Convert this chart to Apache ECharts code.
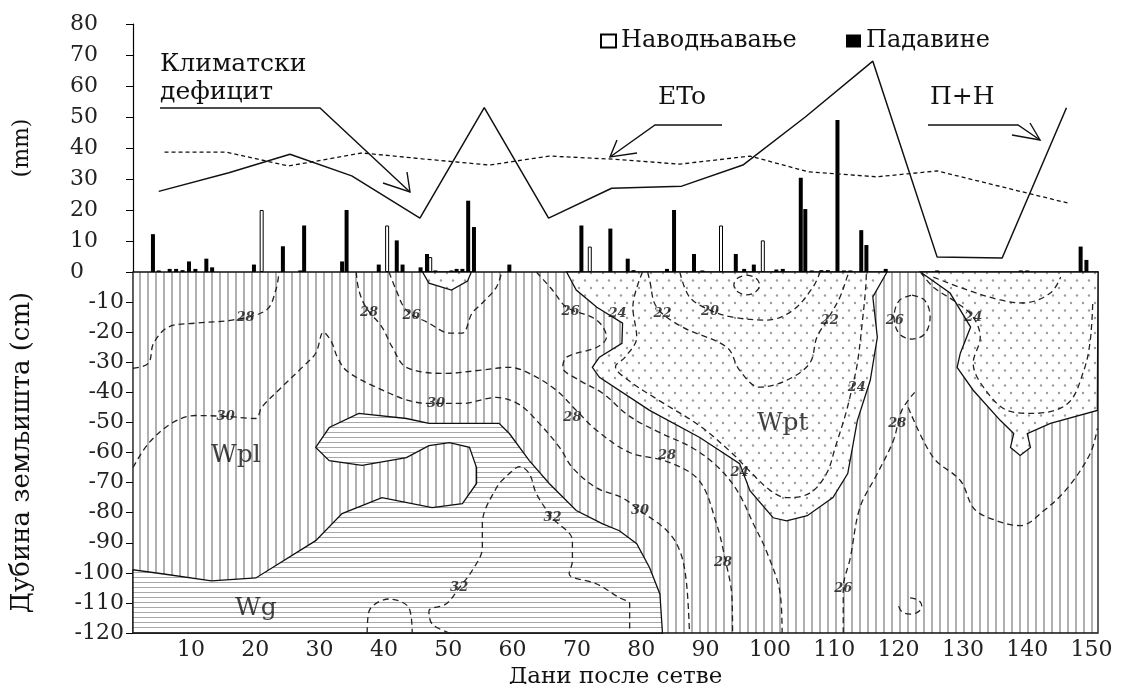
<!DOCTYPE html>
<html>
<head>
<meta charset="utf-8">
<script src="https://cdn.jsdelivr.net/npm/echarts@6/dist/echarts.min.js"></script>
<style>
html,body{margin:0;padding:0;background:#fff}
#chart{width:1123px;height:684px}
</style>
</head>
<body>
<div id="chart"></div>
<script>
// ---- top panel data (mm) ----
var dayTicks = [10,20,30,40,50,60,70,80,90,100,110,120,130,140,150];

var irrigation = [[21,20],[40.5,15],[47.2,4.8],[72,8.2],[92.4,15],[98.9,10.2]];

var rainfall = [[4.1,12.2],[5,0.5],[6.7,1],[7.7,1],[8.7,0.6],[9.7,3.4],[10.7,1],[12.4,4.3],[13.3,1.5],
  [19.8,2.4],[24.3,8.3],[27,0.5],[27.6,15],[33.5,3.4],[34.2,20],[39.2,2.4],[42,10.2],[42.9,2.4],
  [45.7,1.5],[46.7,5.8],[48,0.5],[50.5,0.5],[51.3,1],[52.2,1],[53.1,23],[54,14.5],[59.5,2.4],
  [70.7,15],[75.2,14],[77.9,4.3],[78.8,0.6],[84,1],[85.1,20],[88.2,5.8],[89.5,0.5],[94.7,5.8],
  [96,1],[97.5,2.4],[101,0.8],[102,1],[104.8,30.4],[105.5,20.3],[106.5,0.5],[108,0.6],[109,0.6],
  [110.5,49],[111.5,0.5],[112.5,0.5],[114.2,13.5],[115,8.7],[118,1],[126,0.5],[139,0.5],[140,0.5],
  [148.3,8.2],[149.2,3.9]];

var climDeficit = [[5,26],[15.9,32],[25.4,38],[35,31],[45.6,17.4],[55.6,53],[65.6,17.4],[75.4,27],
  [86.3,27.7],[95.8,34.5],[105.5,50],[116,68],[126,4.8],[136.1,4.5],[146.1,53]];

var eto = [[5.9,38.7],[15.4,38.7],[25.2,34.2],[36.6,38.4],[46,36.5],[56.4,34.5],[65.7,37.4],[75.5,36.4],
  [86,34.8],[96.9,37.4],[106,32.3],[116.6,30.7],[126,32.6],[136,27.5],[146.4,22.2]];

// ---- bottom panel: soil water zones (day, depth cm) ----
var zoneWpl = [[1,0],[151,0],[151,-120],[1,-120]];

var zoneWg = [[1,-99],[1,-120],[83.3,-120],[82.9,-107],[81.3,-98.3],[79.3,-90.3],[76.6,-86],[74,-83.7],
  [69.9,-79.3],[65.7,-70.3],[62.6,-62.7],[59.5,-53.7],[57.9,-50.3],[47,-50.3],[43.5,-48.7],[36.1,-47],
  [31.5,-51.7],[29.4,-58.3],[31.5,-62.7],[36.6,-64.3],[43.5,-61.7],[47,-57.7],[50.2,-56.7],[53.3,-58.3],
  [54.4,-65],[54.4,-70.3],[52.2,-77],[47.5,-78.3],[39.7,-75],[33.5,-80.3],[29.4,-89.3],[20.1,-101.7],
  [13.2,-102.7],[5.5,-100.3]];

var zoneWptMid = [[68.4,0],[69.9,-6],[73.1,-11.7],[77.1,-17],[77,-23.7],[73.5,-28.3],[72.4,-31.7],
  [73.5,-35],[81.3,-46],[89.1,-55],[95.3,-63.7],[96.9,-72.7],[100.5,-81.7],[102.6,-82.7],[105.8,-81],
  [109.8,-75],[112.1,-67],[113.6,-49.3],[115.6,-36],[116.7,-21.7],[116,-8.3],[118.2,0]];

var zoneWptRight = [[123.4,0],[128,-7],[131.2,-18.3],[129.6,-27],[129.1,-31.7],[131.6,-39.3],[135.8,-49.3],
  [137.9,-53.7],[137.4,-58.3],[138.9,-61],[140.5,-58.3],[140,-53.7],[143.6,-50.3],[150.9,-46],[151,0]];

var zoneWptSmall = [[46,0],[47,-3.7],[50.5,-6],[53,-3],[53.6,0]];

// dashed isolines
var iso28a = [[1,-32],[3.4,-30.3],[4.2,-23.7],[6.5,-18.3],[10.7,-17],[16.4,-16],[21.7,-12.7],[23.2,-6],[23.7,0]];
var iso30 = [[1,-65],[3.4,-57],[7,-50.3],[10.7,-47.7],[15.4,-48],[20.1,-48.7],[21,-45],[24.1,-38.3],[27.3,-31.7],
  [29.4,-27],[30.6,-20],[31.8,-23],[32.8,-28.5],[34.3,-33],[38.8,-38.3],[45,-43.3],[48.1,-43.7],[52.2,-43.7],
  [57.5,-41.7],[61,-44],[64,-50],[67.3,-58.3],[69.3,-65],[73,-71.7],[77,-75],[79.8,-79.3],[84,-86],[86,-92.7],
  [87,-102.7],[87.5,-120]];
var iso28b = [[35.7,0],[36.1,-6],[37.2,-11.7],[39.7,-18.3],[41.3,-25],[43.5,-31.7],[49.7,-33.7],[54.8,-32.7],
  [59.5,-31.7],[62.6,-33.7],[66.8,-39.3],[69.9,-46],[73.1,-52.7],[78.2,-60],[84,-63],[89,-69.3],[91.7,-83.7],
  [93,-95],[94.1,-108],[94.2,-120]];
var iso26a = [[40.8,0],[41.9,-6],[43.5,-12.7],[47,-17],[50.2,-20.3],[52.2,-20.3],[53.7,-13.7],[55.3,-10.3],[57.5,-5],[58.3,0]];
var iso26b = [[63.7,0],[66.2,-6],[68.4,-11.7],[73.1,-16],[74.6,-21.7],[73.1,-25],[68.4,-28.3],[67.8,-31.7],[70.4,-36],
  [74,-40.3],[78.2,-48],[83,-53.5],[88,-58.5],[92,-65],[95,-73],[97.5,-84],[99.5,-93],[101.6,-107],[101.9,-120]];
var iso24a = [[80.2,0],[78.7,-11.7],[79.3,-21.7],[77.5,-28.3],[76,-31.5],[78,-36],[83,-43],[89,-51],[94,-60],[97,-66.5],
  [100,-72.5],[102.6,-75],[106.2,-73.5],[108.8,-67],[110.2,-58],[111.8,-47],[112.8,-38.3],[113.6,-30.3],[114.4,-16],[114.9,-5],[115,0]];
var iso22 = [[81,0],[81.3,-2.7],[82.4,-11.7],[86.4,-18.3],[93.3,-25],[95.3,-32.7],[98.4,-38.3],[102.6,-36],[106.2,-30.3],
  [107.3,-21.7],[108.9,-16],[110.9,-8.3],[112,-1.7],[112.3,0]];
var iso20 = [[86,0],[87.5,-8.3],[90.7,-12.7],[94.2,-15],[99.5,-16],[103.6,-12.7],[106.7,-5],[107.8,0]];
var iso20ring = [[96.4,-1],[97.8,-2],[98.4,-4.3],[97.8,-6.6],[96.4,-7.6],[95,-6.6],[94.4,-4.3],[95,-2],[96.4,-1]];
var iso26ring = [[122.1,-7.7],[124.1,-9.5],[124.9,-15],[124.1,-20.5],[122.1,-22.3],[120.1,-20.5],[119.3,-15],[120.1,-9.5],[122.1,-7.7]];
var iso26c = [[122.5,-40],[120.5,-46],[119.2,-56],[116.7,-67],[114,-78.3],[112.5,-95],[111.4,-105.3],[111.4,-120]];
var iso24b = [[123.4,0],[125.4,-5],[129.1,-10.3],[131.6,-15],[132.7,-21.7],[131.6,-30.3],[133.2,-38.3],[136.9,-46],
  [141,-47],[146.3,-43.7],[148.8,-32.7],[149.8,-22.7],[150.2,-9.3]];
var iso22b = [[125.4,-1.7],[130.7,-6],[135.8,-9.3],[139.4,-10.3],[143.6,-7],[145.2,-1.7]];
var iso28c = [[121.5,-45],[125.4,-61.7],[129.6,-69.3],[131.6,-78.3],[134,-81.7],[138.9,-84.3],[142.6,-79.3],
  [146.3,-71.7],[149.8,-60.3],[150.9,-52]];
var iso32 = [[50.2,-120],[47.5,-117],[47,-112.7],[49.7,-110.3],[51.7,-105],[53.7,-99.3],[55.3,-91.7],[55.3,-83.7],
  [57.5,-71.7],[59.5,-67],[61.1,-64.7],[62.6,-67],[63.7,-73.7],[66.2,-81.7],[69.3,-89.3],[69.3,-96],[68.8,-100.3],
  [73.1,-103.7],[76.6,-108.3],[78.2,-110.3],[78.2,-120]];
var iso34 = [[37.4,-120],[37.7,-112.7],[40.8,-108.7],[43.9,-111.7],[44.4,-120]];
var iso30ring = [[121.8,-108.3],[123.1,-109.1],[123.6,-111],[123.1,-112.9],[121.8,-113.7],[120.5,-112.9],[120,-111]];

var isoLabels = [[18.5,-15.3,'28'],[15.4,-48,'30'],[37.7,-13.5,'28'],[44.3,-14.5,'26'],[48.1,-43.7,'30'],
  [69,-13.3,'26'],[76.3,-13.7,'24'],[83.3,-13.7,'22'],[90.7,-13.2,'20'],[109.3,-16,'22'],[119.4,-16,'26'],
  [113.5,-38.3,'24'],[119.8,-50.3,'28'],[131.6,-15,'24'],[69.3,-48.3,'28'],[84,-61,'28'],[79.8,-79.3,'30'],
  [95.3,-66.7,'24'],[92.7,-96.7,'28'],[111.4,-105.3,'26'],[51.7,-105,'32'],[66.2,-81.7,'32']];

var zoneNames = [[17,-61,'Wpl'],[20.1,-111.7,'Wg'],[102,-50.3,'Wpt']];

// ---- fill patterns ----
function makePattern(w, h, draw) {
  var c = document.createElement('canvas');
  c.width = w; c.height = h;
  var g = c.getContext('2d');
  g.fillStyle = '#fff';
  g.fillRect(0, 0, w, h);
  draw(g);
  return {image: c, repeat: 'repeat'};
}
var vHatch = makePattern(8, 8, function (g) { g.fillStyle = '#b0b0b0'; g.fillRect(3, 0, 2, 8); });
var hHatch = makePattern(5, 5, function (g) { g.fillStyle = '#a8a8a8'; g.fillRect(0, 2, 5, 1); });
var dots = makePattern(12, 15, function (g) {
  g.fillStyle = '#9c9c9c';
  g.beginPath(); g.arc(3, 3, 1.2, 0, Math.PI * 2); g.fill();
  g.beginPath(); g.arc(9, 10.5, 1.2, 0, Math.PI * 2); g.fill();
});

function zone(pts, fill) {
  return {
    type: 'custom', xAxisIndex: 1, yAxisIndex: 1, silent: true,
    data: [pts[0]],
    renderItem: function (params, api) {
      return {
        type: 'polygon',
        shape: {points: pts.map(function (p) { return api.coord(p); })},
        style: {fill: fill, stroke: '#111', lineWidth: 1.3}
      };
    }
  };
}

function iso(pts) {
  return {
    type: 'line', xAxisIndex: 1, yAxisIndex: 1, data: pts, symbol: 'none', silent: true,
    smooth: 0.35,
    lineStyle: {color: '#222', width: 1.3, type: [6, 4]}
  };
}

function textLayer(pts, size, italicBold) {
  return {
    type: 'scatter', xAxisIndex: 1, yAxisIndex: 1, data: pts, symbolSize: 0, silent: true,
    itemStyle: {color: 'rgba(0,0,0,0)'},
    label: {show: true, position: 'inside', formatter: function (p) { return p.value[2]; },
      fontFamily: font, fontSize: size, color: '#111',
      fontStyle: italicBold ? 'italic' : 'normal', fontWeight: italicBold ? 'bold' : 'normal'}
  };
}

var font = 'DejaVu Serif';
var chart = echarts.init(document.getElementById('chart'));

var series = [
  {name: 'Наводњавање', type: 'bar', xAxisIndex: 0, yAxisIndex: 0, data: irrigation, barWidth: 4, barGap: '-100%',
    itemStyle: {color: '#fff', borderColor: '#000', borderWidth: 1}},
  {name: 'Падавине', type: 'bar', xAxisIndex: 0, yAxisIndex: 0, data: rainfall, barWidth: 4, barGap: '-100%',
    itemStyle: {color: '#000'}},
  {type: 'line', xAxisIndex: 0, yAxisIndex: 0, data: climDeficit, symbol: 'none', silent: true,
    lineStyle: {color: '#111', width: 1.5}},
  {type: 'line', xAxisIndex: 0, yAxisIndex: 0, data: eto, symbol: 'none', silent: true,
    lineStyle: {color: '#111', width: 1.3, type: [4, 3]}},
  zone(zoneWpl, vHatch),
  zone(zoneWg, hHatch),
  zone(zoneWptMid, dots),
  zone(zoneWptRight, dots),
  zone(zoneWptSmall, dots)
];
[iso28a, iso30, iso28b, iso26a, iso26b, iso24a, iso22, iso20, iso20ring, iso26ring, iso26c, iso24b, iso22b,
  iso28c, iso32, iso34, iso30ring].forEach(function (a) { series.push(iso(a)); });
series.push(textLayer(isoLabels, 13, true));
series.push(textLayer(zoneNames, 25, false));

var labelStyle = {fontFamily: font, fontSize: 22, color: '#222'};
var bigText = '25px "DejaVu Serif"';

chart.setOption({
  animation: false,
  backgroundColor: '#fff',
  textStyle: {fontFamily: font},
  grid: [
    {left: 133, top: 24, width: 965, height: 248, outerBoundsMode: 'none'},
    {left: 133, top: 272, width: 965, height: 361, outerBoundsMode: 'none'}
  ],
  legend: [
    {data: ['Наводњавање'], left: 600, top: 29, icon: 'rect', itemWidth: 15, itemHeight: 13, padding: 0,
      textStyle: {fontFamily: font, fontSize: 24, color: '#111'}},
    {data: ['Падавине'], left: 846, top: 29, icon: 'rect', itemWidth: 15, itemHeight: 13, padding: 0,
      textStyle: {fontFamily: font, fontSize: 24, color: '#111'}}
  ],
  xAxis: [
    {type: 'value', gridIndex: 0, min: 1, max: 151,
      axisLine: {lineStyle: {color: '#000', width: 1.2}}, axisTick: {show: false},
      axisLabel: {show: false}, splitLine: {show: false}},
    {type: 'value', gridIndex: 1, min: 1, max: 151, position: 'bottom',
      name: 'Дани после сетве', nameLocation: 'middle', nameGap: 28,
      nameTextStyle: {fontFamily: font, fontSize: 23, color: '#111'},
      axisLine: {lineStyle: {color: '#000', width: 1.2}},
      axisTick: {customValues: dayTicks, length: 6, lineStyle: {color: '#000'}},
      axisLabel: Object.assign({customValues: dayTicks, margin: 6}, labelStyle),
      splitLine: {show: false}}
  ],
  yAxis: [
    {type: 'value', gridIndex: 0, min: 0, max: 80, interval: 10,
      name: '(mm)', nameLocation: 'middle', nameGap: 100, nameRotate: 90,
      nameTextStyle: {fontFamily: font, fontSize: 22, color: '#111'},
      axisLine: {show: true, lineStyle: {color: '#000', width: 1.2}},
      axisTick: {show: true, length: 7, lineStyle: {color: '#000'}},
      axisLabel: Object.assign({margin: 63, align: 'left'}, labelStyle),
      splitLine: {show: false}},
    {type: 'value', gridIndex: 1, min: -120, max: 0, interval: 10,
      name: 'Дубина земљишта (cm)', nameLocation: 'middle', nameGap: 98, nameRotate: 90,
      nameTextStyle: {fontFamily: font, fontSize: 26, color: '#111'},
      axisLine: {show: true, lineStyle: {color: '#000', width: 1.2}},
      axisTick: {show: true, length: 7, lineStyle: {color: '#000'}},
      axisLabel: Object.assign({margin: 9, showMaxLabel: false}, labelStyle),
      splitLine: {show: false}}
  ],
  graphic: [
    {type: 'text', left: 160, top: 52, style: {text: 'Климатски', font: bigText, fill: '#111'}},
    {type: 'text', left: 160, top: 80, style: {text: 'дефицит', font: bigText, fill: '#111'}},
    {type: 'polyline', shape: {points: [[160, 108], [320, 108], [410, 192]]}, style: {stroke: '#111', lineWidth: 1.4, fill: null}},
    {type: 'polyline', shape: {points: [[383, 183], [410, 192], [407, 172]]}, style: {stroke: '#111', lineWidth: 1.4, fill: null}},
    {type: 'text', left: 658, top: 85, style: {text: 'ETo', font: bigText, fill: '#111'}},
    {type: 'polyline', shape: {points: [[722, 125], [655, 125], [610, 157]]}, style: {stroke: '#111', lineWidth: 1.4, fill: null}},
    {type: 'polyline', shape: {points: [[617, 140], [610, 157], [637, 153]]}, style: {stroke: '#111', lineWidth: 1.4, fill: null}},
    {type: 'text', left: 930, top: 85, style: {text: 'П+Н', font: bigText, fill: '#111'}},
    {type: 'polyline', shape: {points: [[928, 125], [1018, 125], [1040, 140]]}, style: {stroke: '#111', lineWidth: 1.4, fill: null}},
    {type: 'polyline', shape: {points: [[1012, 135], [1040, 140], [1030, 123]]}, style: {stroke: '#111', lineWidth: 1.4, fill: null}}
  ],
  series: series
});
</script>
</body>
</html>
